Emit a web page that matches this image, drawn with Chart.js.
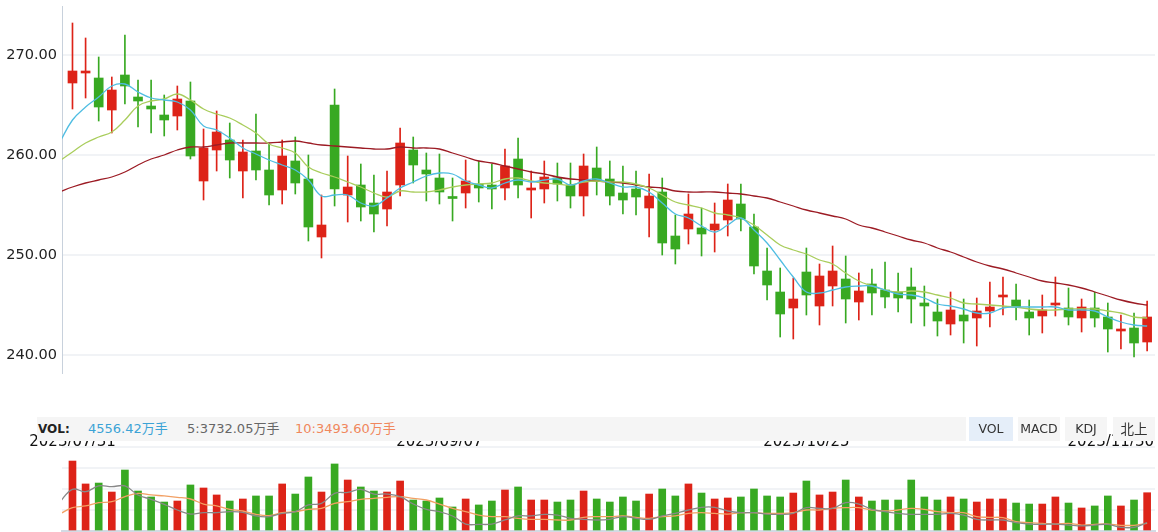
<!DOCTYPE html>
<html>
<head>
<meta charset="utf-8">
<script src="https://cdn.jsdelivr.net/npm/chart.js@4"></script>
<style>
	body { margin: 0; background: #fff; }
	#wrap { position: relative; width: 1158px; height: 532px; overflow: hidden; font-family: "DejaVu Sans", "Noto Sans CJK SC", sans-serif; }
	#kline { position: absolute; left: 0; top: 0; z-index: 1; }
	#vol { position: absolute; left: 0; top: 441px; z-index: 2; }
	#volInfo { position: absolute; left: 37px; top: 417px; width: 929px; height: 24px; background: #f5f5f5; z-index: 3; font-size: 13px; line-height: 24px; }
	#volInfo span { position: absolute; top: 0; white-space: nowrap; }
	.btn { position: absolute; top: 417px; height: 24px; line-height: 24px; text-align: center; background: #f5f5f5; color: #333; font-size: 12.5px; z-index: 3; }
	.btn.active { background: #e5eef9; }
</style>
</head>
<body>
<div id="wrap">
	<canvas id="kline" width="1158" height="460"></canvas>
	<canvas id="vol" width="1158" height="91"></canvas>
	<div id="volInfo">
		<span style="left:1px;font-weight:bold;font-size:12px;color:#222">VOL:</span>
		<span style="left:51px;color:#3ba3d6">4556.42万手</span>
		<span style="left:150px;color:#666">5:3732.05万手</span>
		<span style="left:258px;color:#f0875c">10:3493.60万手</span>
	</div>
	<div class="btn active" style="left:969px;width:44px">VOL</div>
	<div class="btn" style="left:1018px;width:42px">MACD</div>
	<div class="btn" style="left:1065px;width:42px">KDJ</div>
	<div class="btn" style="left:1113px;width:42px;font-size:13.5px">北上</div>
</div>
<script>
// 2023/07/31 .. 2023/11/30, daily
const opens = [
	267.2, 268.2, 267.7, 264.5, 268.0, 265.8, 264.9, 264.0, 263.9, 265.4,
	257.4, 260.5, 261.5, 258.4, 260.4, 258.5, 256.5, 259.4, 257.6, 251.8,
	265.0, 256.0, 257.0, 255.2, 254.6, 257.0, 260.5, 258.5, 257.7, 255.75,
	256.2, 257.1, 257.0, 256.7, 259.6, 256.5, 256.6, 257.7, 257.0, 255.9,
	258.7, 257.6, 256.2, 256.6, 254.7, 256.3, 251.9, 252.6, 252.7, 252.5,
	253.5, 255.1, 252.8, 248.4, 246.3, 244.7, 248.3, 244.9, 246.9, 247.6,
	245.3, 247.1, 246.5, 246.3, 246.8, 245.2, 244.3, 243.1, 244.0, 243.7,
	244.4, 245.8, 245.5, 244.3, 243.9, 245.0, 244.7, 243.7, 244.7, 243.8,
	242.4, 242.7, 241.3
];
const highs = [
	273.2, 271.7, 269.8, 267.8, 272.0, 267.5, 267.5, 266.0, 266.9, 267.3,
	262.6, 264.4, 263.2, 261.5, 264.1, 261.2, 261.5, 261.8, 260.0, 256.0,
	266.6, 259.9, 259.1, 258.0, 258.4, 262.7, 261.8, 260.2, 260.1, 257.7,
	259.5, 259.4, 259.1, 260.6, 261.7, 258.4, 259.4, 259.2, 259.2, 260.1,
	260.8, 259.4, 258.9, 258.4, 258.1, 257.7, 254.0, 256.1, 254.7, 255.2,
	257.1, 257.1, 254.1, 250.7, 248.7, 247.7, 250.7, 249.1, 250.9, 249.9,
	248.2, 248.6, 249.3, 248.2, 248.7, 246.9, 245.6, 246.3, 245.6, 245.7,
	247.3, 247.8, 247.1, 245.5, 246.0, 247.8, 246.7, 245.6, 246.3, 245.2,
	244.0, 244.2, 245.4
];
const lows = [
	264.6, 265.7, 263.4, 262.2, 265.1, 262.8, 262.2, 261.9, 262.5, 259.6,
	255.5, 258.4, 257.7, 255.7, 257.5, 255.0, 255.1, 256.1, 251.4, 249.7,
	254.9, 253.3, 253.4, 252.3, 252.9, 255.9, 257.2, 255.4, 255.1, 253.4,
	254.7, 255.3, 254.6, 255.5, 255.7, 253.7, 255.2, 255.4, 254.7, 253.9,
	256.0, 255.0, 254.1, 254.0, 251.8, 250.0, 249.1, 251.1, 249.9, 250.3,
	251.9, 252.4, 248.1, 245.5, 241.8, 241.6, 244.0, 243.0, 244.9, 243.2,
	243.5, 244.0, 244.7, 244.3, 243.2, 242.9, 241.9, 242.0, 241.2, 240.9,
	242.8, 244.0, 243.5, 242.0, 242.2, 243.9, 243.0, 242.3, 242.8, 240.3,
	240.6, 239.8, 240.4
];
const closes = [
	268.4, 268.3, 264.8, 266.5, 266.9, 265.4, 264.6, 263.5, 265.6, 259.9,
	260.7, 262.3, 259.5, 260.3, 258.5, 256.0, 259.9, 257.2, 252.8, 253.0,
	256.6, 256.8, 254.8, 254.1, 256.3, 261.2, 259.0, 258.1, 256.3, 255.65,
	257.4, 256.7, 256.6, 258.9, 257.0, 256.7, 257.8, 257.1, 255.9, 258.9,
	257.4, 255.9, 255.5, 255.8, 255.9, 251.2, 250.6, 254.1, 252.1, 253.1,
	255.5, 253.6, 248.9, 247.0, 244.1, 245.6, 246.0, 247.9, 248.4, 245.6,
	246.4, 246.2, 245.8, 245.7, 245.6, 244.9, 243.4, 244.5, 243.4, 244.4,
	244.8, 246.0, 244.8, 243.7, 244.5, 245.2, 243.8, 244.8, 243.7, 242.6,
	242.6, 241.2, 243.8
];

// moving average lines, first value is the day before 07/31
const ma5 = [
	261.2, 263.5, 264.8, 265.8, 266.9, 267.1, 266.3, 265.7, 265.5, 265.3, 264.5,
	262.9, 262.5, 261.7, 260.7, 260.1, 259.5, 259.0, 258.5, 257.5, 255.9,
	256.0, 256.0, 255.2, 254.9, 255.7, 256.7, 257.3, 257.9, 258.2, 258.1,
	257.4, 257.0, 256.7, 257.2, 257.5, 257.3, 257.5, 257.6, 257.0, 257.4,
	257.6, 257.2, 256.8, 256.8, 256.3, 255.2, 254.1, 253.7, 252.9, 252.3,
	253.0, 253.7, 252.5, 251.2, 249.5, 247.8, 246.3, 246.2, 246.5, 246.8,
	246.9, 246.9, 246.5, 246.1, 246.0, 245.7, 245.1, 244.9, 244.6, 244.2,
	244.2, 244.7, 244.8, 244.8, 244.8, 244.8, 244.5, 244.5, 244.4, 243.8,
	243.3, 243.0, 242.9
];
const ma10 = [
	259.4, 260.3, 261.2, 261.8, 262.3, 263.5, 264.9, 265.4, 265.6, 266.1, 265.5,
	264.6, 264.1, 263.7, 263.0, 262.2, 261.1, 260.7, 260.2, 258.8, 258.2,
	257.8, 257.3, 256.8, 256.2, 255.8, 256.4, 256.3, 256.3, 256.5, 256.8,
	257.0, 257.1, 257.2, 257.6, 257.7, 257.4, 257.2, 257.1, 257.0, 257.3,
	257.4, 257.3, 257.3, 257.1, 256.7, 256.0, 255.3, 255.0, 254.7, 254.2,
	254.0, 253.7, 253.0, 252.0, 251.0, 250.5, 250.1, 249.5, 249.1, 248.2,
	247.4, 246.9, 246.5, 246.3, 246.4, 246.3, 246.0, 245.7, 245.2, 245.1,
	245.0, 244.9, 244.8, 244.6, 244.5, 244.5, 244.6, 244.6, 244.6, 244.4,
	244.2, 243.8, 243.7
];
const ma20 = [
	256.3, 256.8, 257.2, 257.5, 257.8, 258.3, 259.0, 259.6, 260.0, 260.5, 260.8,
	260.8, 261.0, 261.2, 261.2, 261.2, 261.2, 261.3, 261.4, 261.2, 261.0,
	260.9, 260.8, 260.7, 260.6, 260.6, 260.8, 260.7, 260.7, 260.6, 260.2,
	259.8, 259.4, 259.2, 258.9, 258.6, 258.3, 258.1, 257.8, 257.6, 257.5,
	257.4, 257.3, 257.2, 257.0, 256.8, 256.7, 256.4, 256.3, 256.3, 256.3,
	256.2, 256.1, 255.9, 255.7, 255.3, 254.9, 254.5, 254.2, 253.9, 253.6,
	253.0, 252.7, 252.3, 251.9, 251.5, 251.2, 250.7, 250.3, 249.8, 249.3,
	248.9, 248.6, 248.2, 247.8, 247.4, 247.2, 247.0, 246.7, 246.3, 245.9,
	245.5, 245.2, 245.0
];

// volume, 万手
const volumes = [
	8330, 5600, 5710, 4640, 7260, 4760, 4050, 3450, 3570, 5480,
	5120, 4290, 3570, 3810, 4170, 4170, 5600, 4400, 6430, 4640,
	7980, 6070, 5240, 4760, 4640, 5950, 3690, 3570, 3930, 2860,
	3810, 3100, 3570, 4880, 5240, 3690, 3690, 3450, 3690, 4760,
	3810, 3450, 4050, 3570, 4400, 5000, 4170, 5600, 4520, 3810,
	3930, 4050, 5000, 4170, 4050, 4520, 5950, 4290, 4640, 6070,
	4050, 3570, 3690, 3690, 6070, 4050, 3690, 4050, 3810, 3450,
	3810, 3810, 3330, 3210, 3210, 4050, 3330, 2740, 2980, 4170,
	2980, 3690, 4556.42
];
const volMa5 = [
	3400, 4960, 4680, 5360, 5280, 5360, 4290, 3770, 3180, 2500, 2020,
	2180, 2180, 2300, 2220, 1790, 1710, 2100, 2300, 3100, 3290,
	4480, 4600, 4960, 4400, 4400, 4090, 3210, 2580, 2300, 1790,
	830, 790, 830, 1310, 1790, 1790, 1980, 1900, 1510, 1390,
	1310, 1390, 1710, 1510, 1390, 1790, 2100, 2500, 2820, 2820,
	2380, 2180, 2180, 2020, 1980, 2100, 2780, 2700, 2700, 3370,
	3210, 2580, 2300, 2100, 1980, 1980, 1980, 2100, 1900, 1390,
	1310, 1310, 990, 830, 790, 830, 710, 600, 710, 790,
	440, 440, 990
];
const volMa10 = [
	2000, 2780, 2980, 3370, 3490, 4090, 4480, 4290, 4170, 4010, 3810,
	3210, 2980, 2580, 2380, 1980, 1830, 2180, 2300, 2580, 2700,
	3290, 3490, 3770, 3890, 4010, 4090, 3890, 3690, 3210, 2700,
	2300, 1900, 1710, 1710, 1510, 1390, 1390, 1310, 1310, 1630,
	1710, 1710, 1790, 1630, 1510, 1710, 1790, 2100, 2180, 2100,
	2020, 2180, 2180, 2100, 2100, 2180, 2500, 2500, 2700, 2780,
	2780, 2500, 2380, 2500, 2700, 2580, 2300, 2180, 2180, 1710,
	1630, 1590, 1110, 990, 910, 830, 910, 710, 790, 830,
	680, 680, 910
];

const priceTicks = [240, 250, 260, 270];
const volTicks = [0, 2500, 5000, 7500, 10000];
const dateTicks = [0, 28, 56, 82];
const dateLabels = ['2023/07/31', '2023/09/07', '2023/10/25', '2023/11/30'];

const UP = '#dd2318';
const DOWN = '#38a922';

let candleColors = opens.map((o, i) => closes[i] >= o ? UP : DOWN);

function lineData(arr) {
	// arrays start one day before the first candle
	return arr.map((v, i) => ({x: i - 1, y: v}));
}

function maSet(label, arr, color) {
	return {
		type: 'line',
		label: label,
		data: lineData(arr),
		borderColor: color,
		borderWidth: 1.3,
		pointRadius: 0,
		tension: 0.4,
		order: 0
	};
}

function fixLeftAxis(s) {
	// fixed axis width, no extra room for the tick labels
	s.width = 62;
	s.paddingTop = 0;
	s.paddingBottom = 0;
}

const xRange = {type: 'linear', min: -0.8, max: 82.6, offset: false};

const dateLabelPlugin = {
	id: 'dateLabels',
	afterDraw(chart) {
		const c = chart.ctx;
		const xs = chart.scales.x;
		c.save();
		c.font = '15px "DejaVu Sans"';
		c.fillStyle = '#111';
		c.textAlign = 'center';
		c.textBaseline = 'middle';
		dateTicks.forEach((idx, k) => {
			const w = c.measureText(dateLabels[k]).width;
			let x = xs.getPixelForValue(idx);
			x = Math.max(w / 2 + 2, Math.min(x, chart.width - w / 2 - 4));
			c.fillText(dateLabels[k], x, chart.chartArea.bottom + 69);
		});
		c.restore();
	}
};

new Chart(document.getElementById('kline'), {
	type: 'bar',
	data: {
		datasets: [
			maSet('MA5', ma5, '#4fbde2'),
			maSet('MA10', ma10, '#a9cd5c'),
			maSet('MA20', ma20, '#9c1b24'),
			{
				label: 'body',
				data: opens.map((o, i) => ({x: i, y: [o, closes[i]]})),
				backgroundColor: candleColors,
				barThickness: 9,
				minBarLength: 2,
				grouped: false,
				order: 1
			},
			{
				label: 'wick',
				data: lows.map((l, i) => ({x: i, y: [l, highs[i]]})),
				backgroundColor: candleColors,
				barThickness: 1,
				grouped: false,
				order: 2
			}
		]
	},
	options: {
		responsive: false,
		animation: false,
		layout: {padding: {top: 6, right: 3, bottom: 87, left: 0}},
		plugins: {legend: {display: false}, tooltip: {enabled: false}},
		scales: {
			x: Object.assign({display: false}, xRange),
			y: {
				min: 238.2,
				max: 274.9,
				afterFit: fixLeftAxis,
				afterBuildTicks: s => { s.ticks = priceTicks.map(v => ({value: v})); },
				ticks: {
					padding: 5,
					color: '#222',
					font: {family: 'DejaVu Sans', size: 14.5},
					callback: v => v.toFixed(2)
				},
				grid: {color: '#f1f3f6', lineWidth: 2, drawTicks: false},
				border: {color: '#c8d1dc', width: 1}
			}
		}
	},
	plugins: [dateLabelPlugin]
});

new Chart(document.getElementById('vol'), {
	type: 'bar',
	data: {
		datasets: [
			{type: 'line', label: 'MA5', data: lineData(volMa5), borderColor: '#888', borderWidth: 1.3, pointRadius: 0, tension: 0.4, order: 0},
			{type: 'line', label: 'MA10', data: lineData(volMa10), borderColor: '#f2a064', borderWidth: 1.3, pointRadius: 0, tension: 0.4, order: 0},
			{
				label: 'VOL',
				data: volumes.map((v, i) => ({x: i, y: v})),
				backgroundColor: candleColors,
				barThickness: 7,
				order: 1
			}
		]
	},
	options: {
		responsive: false,
		animation: false,
		layout: {padding: {top: 6, right: 3, bottom: 0, left: 0}},
		plugins: {legend: {display: false}, tooltip: {enabled: false}},
		scales: {
			x: Object.assign({
				ticks: {display: false},
				grid: {display: false, drawTicks: false},
				border: {color: '#d3dae4', width: 2},
				afterFit: s => { s.height = 1; }
			}, xRange),
			y: {
				min: 0,
				max: 10000,
				afterFit: fixLeftAxis,
				afterBuildTicks: s => { s.ticks = volTicks.map(v => ({value: v})); },
				ticks: {display: false},
				grid: {color: '#f1f3f6', lineWidth: 2, drawTicks: false},
				border: {display: false}
			}
		}
	}
});
</script>
</body>
</html>
